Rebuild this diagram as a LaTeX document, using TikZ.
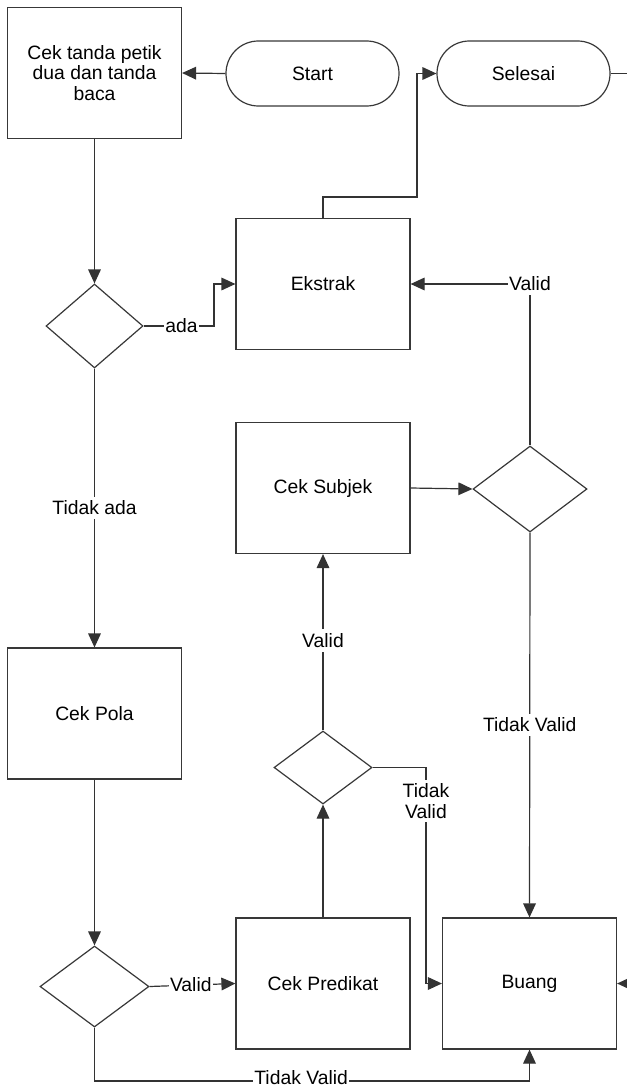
\documentclass[tikz,border=0pt]{standalone}
\usepackage{fontspec}
\setmainfont{Liberation Sans}
\usetikzlibrary{shapes.geometric,arrows.meta}
\begin{document}
\begin{tikzpicture}[x=0.75pt,y=-0.75pt,
  font=\fontsize{14.5pt}{15.5pt}\selectfont,
  wire/.style={draw=black!80,line width=0.9pt},
  procbox/.style={draw=black!78,line width=0.9pt,rectangle,minimum width=130.5pt,minimum height=98.25pt,inner sep=0pt,align=center},
  termbox/.style={draw=black!78,line width=0.9pt,rectangle,rounded corners=24.3pt,minimum width=129.75pt,minimum height=48.75pt,inner sep=0pt},
  decision/.style={draw=black!78,line width=0.9pt,diamond,inner sep=0pt},
  flow/.style={wire,-{Triangle[length=10.5pt,width=9.5pt]}},
  lbl/.style={fill=white,draw=none,inner xsep=1pt,inner ysep=3pt,align=center}]

  \fill[white] (0,0) rectangle (627,1088);
  \useasboundingbox (0,0) rectangle (627,1088);
  \coordinate (rim) at (627,0);

  % process boxes
  \node[procbox] (cekpetik) at (94.5,73) {Cek tanda petik\\dua dan tanda\\baca};
  \node[procbox] (ekstrak)  at (323,284) {Ekstrak};
  \node[procbox] (subjek)   at (323,488) {Cek Subjek};
  \node[procbox] (pola)     at (94.5,713.5) {Cek Pola};
  \node[procbox] (predikat) at (323,983.5) {Cek Predikat};
  \node[procbox] (buang)    at (529.5,983.5) {Buang};

  % terminators
  \node[termbox] (start)   at (312.5,73.5) {Start};
  \node[termbox] (selesai) at (523.5,73.5) {Selesai};

  % decisions
  \node[decision,minimum width=72.75pt,minimum height=63pt]   (dpetik)   at (94.5,326) {};
  \node[decision,minimum width=85.5pt,minimum height=64.5pt]  (dsubjek)  at (530,489) {};
  \node[decision,minimum width=73.5pt,minimum height=54.75pt] (dpred)    at (323,767.5) {};
  \node[decision,minimum width=81.75pt,minimum height=60.75pt](dpola)    at (94.5,986.5) {};

  \coordinate (j1) at (417,197);
  \coordinate (j2) at (214,0);
  \coordinate (j3) at (426,0);
  \coordinate (j4) at (0,1081);

  % connectors
  \draw[flow] (start.west) -- (cekpetik.east);
  \draw[flow] (cekpetik.south) -- (dpetik.north);
  \draw[flow] (dpetik.east) -- node[lbl,pos=0.54]{ada} (dpetik.east -| j2) |- (ekstrak.west);
  \draw[flow] (ekstrak.north) |- (j1) |- (selesai.west);
  \draw[wire] (selesai.east) -- (selesai.east -| rim);
  \draw[flow] (dsubjek.north) |- node[lbl,pos=0.5]{Valid} (ekstrak.east);
  \draw[flow] (subjek.east) -- (dsubjek.west);
  \draw[flow] (dsubjek.south) -- node[lbl,pos=0.5]{Tidak Valid} (buang.north);
  \draw[flow] (dpetik.south) -- node[lbl,pos=0.5]{Tidak ada} (pola.north);
  \draw[flow] (pola.south) -- (dpola.north);
  \draw[flow] (dpola.east) -- node[lbl,pos=0.48]{Valid} (predikat.west);
  \draw[flow] (predikat.north) -- (dpred.south);
  \draw[flow] (dpred.north) -- node[lbl,pos=0.51]{Valid} (subjek.south);
  \draw[flow] (dpred.east) -- (dpred.east -| j3) -- node[lbl,pos=0.155]{Tidak\\Valid} (j3 |- buang.west) -- (buang.west);
  \draw[flow] (dpola.south) -- (dpola.south |- j4) -- node[lbl,pos=0.475,inner ysep=0.5pt,yshift=2.5pt]{Tidak Valid} (buang.south |- j4) -- (buang.south);
  \draw[flow] (buang.east -| rim) -- (buang.east);
\end{tikzpicture}
\end{document}
